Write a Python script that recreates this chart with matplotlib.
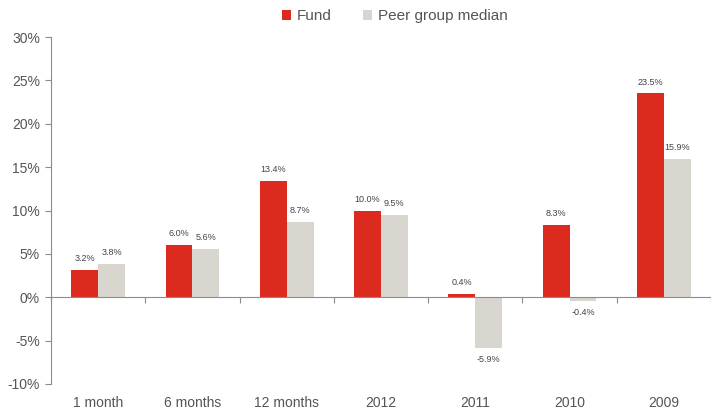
import matplotlib
matplotlib.use("Agg")
import matplotlib.pyplot as plt
import matplotlib.transforms as mtransforms
import numpy as np

categories = ["1 month", "6 months", "12 months", "2012", "2011", "2010", "2009"]
fund = [3.2, 6.0, 13.4, 10.0, 0.4, 8.3, 23.5]
peer = [3.8, 5.6, 8.7, 9.5, -5.9, -0.4, 15.9]
yticks = [-10, -5, 0, 5, 10, 15, 20, 25, 30]

red = "#DC2A1F"
grey = "#D9D6D0"
txt = "#555555"
axc = "#8C8C8C"

plt.rcParams["font.family"] = ["Liberation Sans", "DejaVu Sans"]

fig = plt.figure(figsize=(7.11, 4.12), dpi=100)
ax = fig.add_axes([0.0717, 0.068, 0.9283, 0.842])

x = np.arange(len(categories))
w = 0.285
b1 = ax.bar(x - w / 2, fund, width=w, color=red, label="Fund", zorder=2)
b2 = ax.bar(x + w / 2, peer, width=w, color=grey, label="Peer group median", zorder=2)

for bars, vals in ((b1, fund), (b2, peer)):
    for r, v in zip(bars, vals):
        cx = r.get_x() + r.get_width() / 2
        if v >= 0:
            ax.annotate(f"{v:.1f}%", (cx, v), xytext=(0, 5), textcoords="offset points",
                        ha="center", va="bottom", fontsize=6.5, color="#444444")
        else:
            ax.annotate(f"{v:.1f}%", (cx, v), xytext=(0, -5), textcoords="offset points",
                        ha="center", va="top", fontsize=6.5, color="#444444")

ax.set_xlim(-0.5, len(categories) - 0.5)
ax.set_ylim(-10, 30)
ax.set_yticks(yticks)
ax.set_yticklabels([f"{t}%" for t in yticks], fontsize=10, color=txt)

for s in ("top", "right"):
    ax.spines[s].set_visible(False)
ax.spines["left"].set_color(axc)
ax.spines["bottom"].set_color(axc)
ax.spines["bottom"].set_position(("data", 0))
ax.spines["bottom"].set_zorder(3)

ax.set_xticks(np.arange(len(categories) + 1) - 0.5)
ax.set_xticklabels([])
ax.tick_params(axis="x", direction="out", length=4, color=axc)
ax.tick_params(axis="y", direction="out", length=4, color=axc, pad=4)

trans = mtransforms.blended_transform_factory(ax.transData, ax.transAxes)
for i, c in enumerate(categories):
    ax.text(i, -0.035, c, transform=trans, ha="center", va="top", fontsize=10, color=txt)

fig.legend(handles=[b1, b2], loc="center", bbox_to_anchor=(0.555, 0.96), ncol=2,
           frameon=False, fontsize=11, handlelength=0.6, handleheight=0.6,
           handletextpad=0.35, columnspacing=2.1, labelcolor=txt)

fig.savefig("out.png", dpi=100)
